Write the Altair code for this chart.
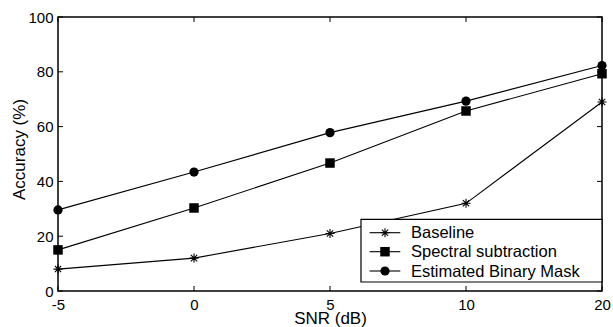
import altair as alt
import pandas as pd

snr = [-5, 0, 5, 10, 20]
baseline = [8.0, 12.0, 21.0, 32.0, 69.0]
spectral = [15.0, 30.3, 46.7, 65.7, 79.3]
ebm = [29.6, 43.4, 57.8, 69.3, 82.3]
series_names = ["Baseline", "Spectral subtraction", "Estimated Binary Mask"]
y_ticks = [0, 20, 40, 60, 80, 100]

W, H = 544, 274
FONT = "Liberation Sans"
ASTER = "M-1,0L1,0M0,-1L0,1M-0.7,-0.7L0.7,0.7M-0.7,0.7L0.7,-0.7"

rows = []
for name, vals in zip(series_names, [baseline, spectral, ebm]):
    for s, v in zip(snr, vals):
        rows.append({"snr": s, "acc": v, "series": name})
df = pd.DataFrame(rows)

xenc = alt.X("snr:O", sort=snr,
             scale=alt.Scale(type="point", padding=0),
             axis=alt.Axis(title="SNR (dB)", labelAngle=0, ticks=False, domain=False,
                           labelFontSize=15, labelFont=FONT, labelColor="black", labelPadding=6,
                           titleFontSize=17, titleFont=FONT, titleFontWeight="normal",
                           titleColor="black", titleX=W / 2, titleY=32, titleBaseline="alphabetic",
                           titleAnchor="middle", titleAlign="center"))
yenc = alt.Y("acc:Q", scale=alt.Scale(domain=[0, 100], nice=False),
             axis=alt.Axis(title="Accuracy (%)", values=y_ticks, ticks=False, domain=False,
                           grid=False, labelFontSize=15, labelFont=FONT, labelColor="black",
                           labelPadding=5, titleFontSize=17, titleFont=FONT,
                           titleFontWeight="normal", titleColor="black",
                           titleX=-38.7, titleY=132, titleAngle=270, titleBaseline="middle",
                           titleAlign="center"))

base = alt.Chart(df)
lines = base.mark_line(color="black", strokeWidth=1.1).encode(x=xenc, y=yenc, detail="series:N")

filled = base.transform_filter(alt.datum.series != "Baseline").mark_point(
    filled=True, color="black", opacity=1
).encode(
    x=xenc, y=yenc,
    shape=alt.Shape("series:N", scale=alt.Scale(domain=["Spectral subtraction", "Estimated Binary Mask"],
                                                 range=["square", "circle"]), legend=None),
    size=alt.Size("series:N", scale=alt.Scale(domain=["Spectral subtraction", "Estimated Binary Mask"],
                                               range=[90, 85]), legend=None),
)
aster = base.transform_filter(alt.datum.series == "Baseline").mark_point(
    shape=ASTER, filled=False, stroke="black", strokeWidth=1.1, size=81, opacity=1
).encode(x=xenc, y=yenc)

# inward ticks
xt = pd.DataFrame({"snr": snr})
xtick_b = alt.Chart(xt).mark_rule(color="black", strokeWidth=1).encode(
    x=alt.X("snr:O", sort=snr), y=alt.value(H), y2=alt.value(H - 5))
xtick_t = alt.Chart(xt).mark_rule(color="black", strokeWidth=1).encode(
    x=alt.X("snr:O", sort=snr), y=alt.value(0), y2=alt.value(5))
yt = pd.DataFrame({"acc": y_ticks})
ytick_l = alt.Chart(yt).mark_rule(color="black", strokeWidth=1).encode(
    y=alt.Y("acc:Q"), x=alt.value(0), x2=alt.value(5))
ytick_r = alt.Chart(yt).mark_rule(color="black", strokeWidth=1).encode(
    y=alt.Y("acc:Q"), x=alt.value(W - 5), x2=alt.value(W))

# legend
LX0, LX1, LY0, LY1 = 303, W, 202.3, 265
legend_layers = [
    alt.Chart(alt.Data(values=[{"k": 1}])).mark_rect(
        fill="white", stroke="black", strokeWidth=1.2
    ).encode(x=alt.value(LX0), x2=alt.value(LX1), y=alt.value(LY0), y2=alt.value(LY1))
]
row_y = [215.7, 234.7, 254.0]
for i, name in enumerate(series_names):
    d = alt.Data(values=[{"label": name}])
    ry = row_y[i]
    legend_layers.append(alt.Chart(d).mark_rule(color="black", strokeWidth=1.1).encode(
        x=alt.value(311.6), x2=alt.value(342.3), y=alt.value(ry)))
    if i == 0:
        legend_layers.append(alt.Chart(d).mark_point(
            shape=ASTER, filled=False, stroke="black", strokeWidth=1.1, size=81, opacity=1
        ).encode(x=alt.value(327), y=alt.value(ry)))
    else:
        legend_layers.append(alt.Chart(d).mark_point(
            shape="square" if i == 1 else "circle", filled=True, color="black",
            size=90 if i == 1 else 85, opacity=1
        ).encode(x=alt.value(327), y=alt.value(ry)))
    legend_layers.append(alt.Chart(d).mark_text(
        align="left", baseline="middle", font=FONT, fontSize=16.5, color="black"
    ).encode(x=alt.value(353), y=alt.value(ry + 0.5), text="label:N"))

chart = alt.layer(
    lines, aster, filled, xtick_b, xtick_t, ytick_l, ytick_r, *legend_layers
).properties(
    width=W, height=H,
    autosize=alt.AutoSizeParams(type="none"),
    padding={"left": 58, "top": 17, "right": 11, "bottom": 36},
    background="white",
).configure_view(stroke="black", strokeWidth=1.5)

chart.save("out.html", embed_options={"renderer": "svg", "actions": False})
